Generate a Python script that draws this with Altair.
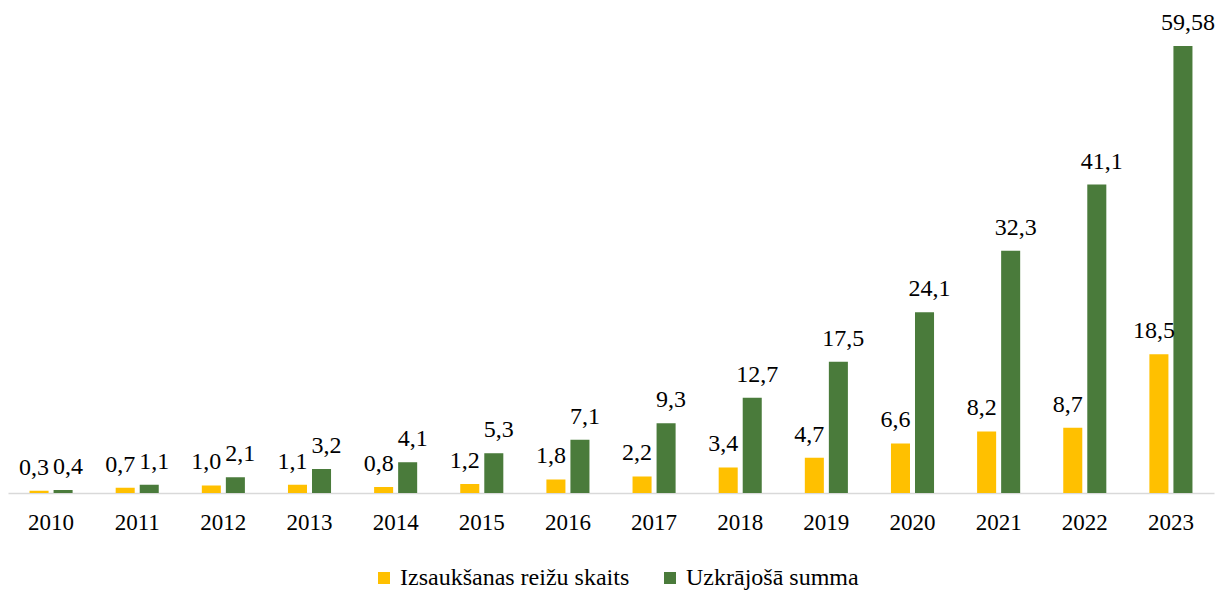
import altair as alt
import pandas as pd

years = ["2010", "2011", "2012", "2013", "2014", "2015", "2016",
         "2017", "2018", "2019", "2020", "2021", "2022", "2023"]
series_names = ["Izsaukšanas reižu skaits", "Uzkrājošā summa"]
calls = [0.3, 0.7, 1.0, 1.1, 0.8, 1.2, 1.8, 2.2, 3.4, 4.7, 6.6, 8.2, 8.7, 18.5]
calls_labels = ["0,3", "0,7", "1,0", "1,1", "0,8", "1,2", "1,8", "2,2", "3,4",
                "4,7", "6,6", "8,2", "8,7", "18,5"]
accum = [0.4, 1.1, 2.1, 3.2, 4.1, 5.3, 7.1, 9.3, 12.7, 17.5, 24.1, 32.3, 41.1, 59.58]
accum_labels = ["0,4", "1,1", "2,1", "3,2", "4,1", "5,3", "7,1", "9,3", "12,7",
                "17,5", "24,1", "32,3", "41,1", "59,58"]
colors = ["#FFC000", "#4A7B3B"]

rows = []
for i, y in enumerate(years):
    rows.append({"year": y, "series": series_names[0], "value": calls[i], "label": calls_labels[i]})
    rows.append({"year": y, "series": series_names[1], "value": accum[i], "label": accum_labels[i]})
df = pd.DataFrame(rows)

FONT = "'Liberation Serif', 'Times New Roman', Times, serif"

x_enc = alt.X("year:N", sort=years, title=None,
              scale=alt.Scale(paddingInner=0.5, paddingOuter=0.25),
              axis=alt.Axis(labelAngle=0, ticks=False, domainColor="#D9D9D9",
                            domainWidth=1.5, labelFont=FONT, labelFontSize=23,
                            labelColor="#000000", labelPadding=18, grid=False))
xoff_enc = alt.XOffset("series:N", sort=series_names,
                       scale=alt.Scale(domain=series_names, paddingInner=0.208, paddingOuter=0))
y_enc = alt.Y("value:Q", axis=None, scale=alt.Scale(domain=[0, 64.64], nice=False, zero=True))

bars = alt.Chart(df).mark_bar().encode(
    x=x_enc,
    xOffset=xoff_enc,
    y=y_enc,
    color=alt.Color("series:N", sort=series_names,
                    scale=alt.Scale(domain=series_names, range=colors),
                    legend=alt.Legend(title=None, orient="none", direction="horizontal",
                                      legendX=364, legendY=558, symbolType="square",
                                      symbolSize=144, symbolStrokeWidth=0,
                                      labelFont=FONT, labelFontSize=24, labelColor="#000000",
                                      labelOffset=4, columnPadding=28, labelLimit=400)),
)

def text_layer(name, dx):
    return alt.Chart(df).transform_filter(alt.datum.series == name).mark_text(
        baseline="alphabetic", dy=-16, dx=dx, font=FONT, fontSize=24, color="#000000"
    ).encode(
        x=alt.X("year:N", sort=years),
        xOffset=xoff_enc,
        y=y_enc,
        text="label:N",
    )

chart = alt.layer(bars, text_layer(series_names[0], -5), text_layer(series_names[1], 5)).properties(
    width=1206, height=485,
    padding={"left": 0, "top": 0, "right": 2, "bottom": 97},
    autosize=alt.AutoSizeParams(type="none"),
).configure_view(stroke=None)

chart.save("out.html", embed_options={"renderer": "svg", "actions": False})
